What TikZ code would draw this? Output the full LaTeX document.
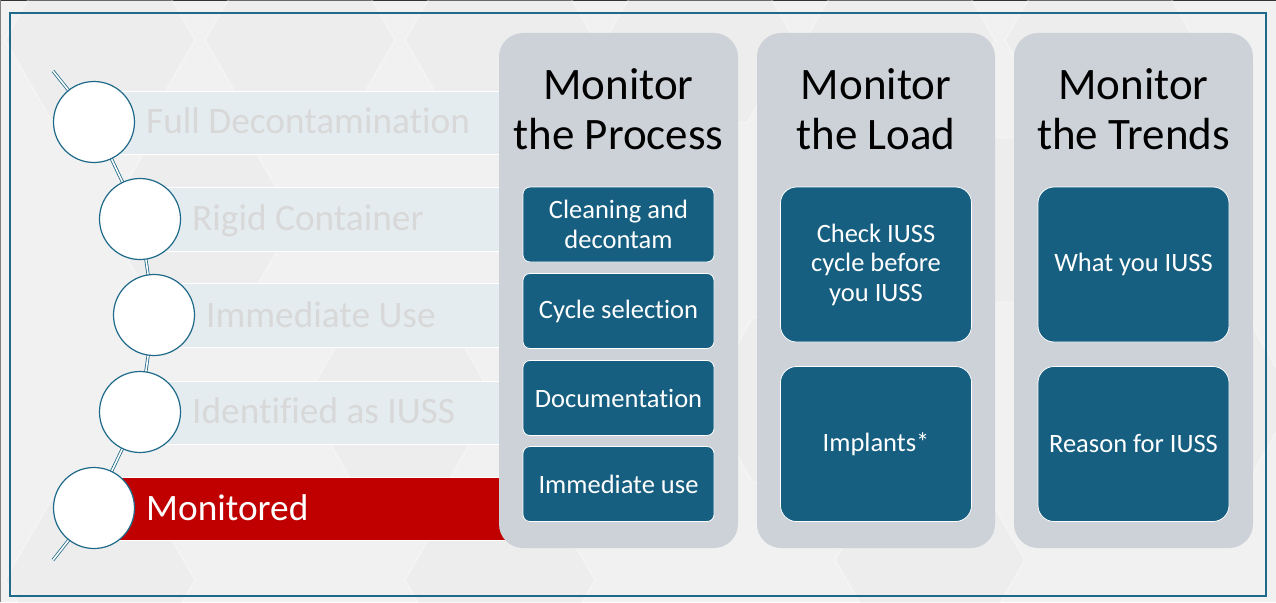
\documentclass[tikz,border=0pt]{standalone}
\usepackage{fontspec}
\setmainfont{Carlito}[Ligatures={NoCommon}]
\definecolor{bgc}{HTML}{F1F1F1}
\definecolor{hexc}{HTML}{E7E7E7}
\definecolor{bandc}{HTML}{E4ECF0}
\definecolor{bandtxt}{HTML}{D8D8D8}
\definecolor{redc}{HTML}{C00000}
\definecolor{framec}{HTML}{1F6A8A}
\definecolor{panelc}{HTML}{CDD2D9}
\definecolor{boxc}{HTML}{175F80}
\begin{document}
\begin{tikzpicture}[x=1pt,y=-1pt,
  band/.style={fill=bandc,draw=white,line width=0.8pt},
  bandlabel/.style={anchor=base west,inner sep=0pt,text=bandtxt,font=\fontsize{37.3}{42}\selectfont},
  chain/.style={draw=framec,double=white,line width=0.8pt,double distance=1.6pt},
  circ/.style={circle,fill=white,draw=framec,line width=1.2pt,minimum size=81pt,inner sep=0pt},
  panel/.style={fill=panelc,rounded corners=24pt},
  title/.style={align=center,font=\fontsize{45}{50}\selectfont,text=black,inner sep=0pt},
  boxa/.style={fill=boxc,draw=white,line width=0.8pt,rounded corners=7pt,text=white,align=center,
     font=\fontsize{26.5}{29.5}\selectfont,minimum width=191pt,minimum height=75pt,inner sep=0pt},
  boxb/.style={boxa,rounded corners=16pt,minimum height=155pt},
  hexa/.style={fill=hexc,draw=white,line width=2pt}
]
\useasboundingbox (0,0) rectangle (1276,602);
% background
\fill[bgc] (0,0) rectangle (1276,602);
\draw[black!80,line width=1pt] (0,0.5) -- (1276,0.5);
\draw[gray,line width=1pt] (0.5,0) -- (0.5,602);
% faint hexagons
\foreach \cx/\cy/\r in {100/40/95, 300/40/95, 500/40/95, 700/40/95, 900/40/95, 1100/40/95,
   200/220/95, 600/220/95, 1000/220/95, 400/400/95, 800/400/95, 1200/400/95,
   100/580/95, 500/580/95, 930/560/95}{
  \path[hexa,opacity=0.3] (\cx-\r,\cy) -- (\cx-\r/2,\cy-0.866*\r) -- (\cx+\r/2,\cy-0.866*\r)
     -- (\cx+\r,\cy) -- (\cx+\r/2,\cy+0.866*\r) -- (\cx-\r/2,\cy+0.866*\r) -- cycle;
}
% frame
\draw[framec,line width=2.4pt] (10,13) rectangle (1266,596);
% bands
\path[band] (94,91) rectangle (505,154);
\path[band] (140,187) rectangle (505,251);
\path[band] (154,283) rectangle (505,347);
\path[band] (140,381) rectangle (505,444);
\path[fill=redc,draw=white,line width=0.8pt] (94,477) rectangle (515,540);
\node[bandlabel] (t1) at (146,133) {Full Decontamination};
\node[bandlabel] (t2) at (192,230) {Rigid Container};
\node[bandlabel] (t3) at (206,327) {Immediate Use};
\node[bandlabel] (t4) at (192,423) {Identified as IUSS};
\node[bandlabel,text=white] (t5) at (146,520) {Monitored};
% chain
\coordinate (p0) at (53,71);
\coordinate (p1) at (94,122);
\coordinate (p2) at (140,219);
\coordinate (p3) at (154,315);
\coordinate (p4) at (140,412);
\coordinate (p5) at (94,508);
\coordinate (p6) at (53,560);
\draw[chain] (p0) -- (p1) -- (p2) -- (p3) -- (p4) -- (p5) -- (p6);
\node[circ] (c1) at (p1) {};
\node[circ] (c2) at (p2) {};
\node[circ] (c3) at (p3) {};
\node[circ] (c4) at (p4) {};
\node[circ] (c5) at (p5) {};
% panels
\fill[panel] (499,33) rectangle (738,548);
\fill[panel] (757,33) rectangle (995,548);
\fill[panel] (1014,33) rectangle (1253,548);
\node[title] (h1) at (618.5,109) {Monitor\\the Process};
\node[title] (h2) at (876,109) {Monitor\\the Load};
\node[title] (h3) at (1133.5,109) {Monitor\\the Trends};
% panel 1 boxes
\node[boxa] (a1) at (618.5,224.5) {Cleaning and\\decontam};
\node[boxa] (a2) at (618.5,311) {Cycle selection};
\node[boxa] (a3) at (618.5,398) {Documentation};
\node[boxa] (a4) at (618.5,484) {Immediate use};
% panel 2 boxes
\node[boxb] (b1) at (876,264.5) {Check IUSS\\cycle before\\you IUSS};
\node[boxb] (b2) at (876,444) {Implants*};
% panel 3 boxes
\node[boxb] (d1) at (1133.5,264.5) {What you IUSS};
\node[boxb] (d2) at (1133.5,444) {Reason for IUSS};
\end{tikzpicture}
\end{document}
